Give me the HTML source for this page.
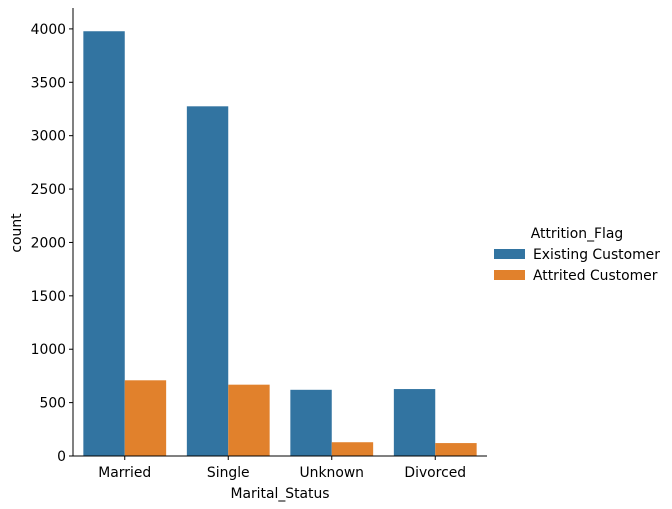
<!DOCTYPE html>
<html><head><meta charset="utf-8">
<style>
body{margin:0;background:#fff;}
svg{display:block;font-family:"DejaVu Sans","Liberation Sans",sans-serif;}
</style></head>
<body>
<svg id="chart" width="672" height="509" viewBox="0 0 672 509" xmlns="http://www.w3.org/2000/svg"></svg>
<script>
const categories = ["Married","Single","Unknown","Divorced"];
const existingValues = [3978, 3275, 620, 627];
const attritedValues = [709, 668, 129, 121];
const seriesNames = ["Existing Customer","Attrited Customer"];
const yTicks = [0,500,1000,1500,2000,2500,3000,3500,4000];

const colors = ["#3274a1","#e1812c"];
const FS = 13.9;
const X0 = 73, X1 = 487, Y0 = 456, YMAX = 4177, YTOP = 10;
const svg = document.getElementById('chart');
const NS = "http://www.w3.org/2000/svg";
function el(tag, attrs, parent){const e=document.createElementNS(NS,tag);for(const k in attrs)e.setAttribute(k,attrs[k]);(parent||svg).appendChild(e);return e;}
const yScale = v => Y0 - v/YMAX*(Y0-YTOP);
const band = (X1-X0)/categories.length;
const xCenter = i => X0 + band*(i+0.5);
const barW = band*0.8/2;

[existingValues, attritedValues].forEach((vals, s) => {
  vals.forEach((v, i) => {
    const x = xCenter(i) - band*0.4 + s*barW;
    const r = el('rect',{x:x,y:yScale(v),width:barW,height:Y0-yScale(v),fill:colors[s]});
    
    
  });
});

let a = el('line',{x1:X0,y1:YTOP-2,x2:X0,y2:Y0,stroke:"#000","stroke-width":1});


a = el('line',{x1:X0,y1:Y0,x2:X1,y2:Y0,stroke:"#000","stroke-width":1});



yTicks.forEach(t => {
  const y = yScale(t);
  el('line',{x1:X0-4,y1:y,x2:X0,y2:y,stroke:"#000"});
  const tx = el('text',{x:X0-7,y:y+5,"text-anchor":"end","font-size":FS,fill:"#000"});
  tx.textContent = t;
  
  
});
categories.forEach((c, i) => {
  const x = xCenter(i);
  el('line',{x1:x,y1:Y0,x2:x,y2:Y0+4,stroke:"#000"});
  const tx = el('text',{x:x,y:Y0+21,"text-anchor":"middle","font-size":FS,fill:"#000"});
  tx.textContent = c;
  
  
});
let t = el('text',{x:(X0+X1)/2,y:498,"text-anchor":"middle","font-size":FS,fill:"#000"});
t.textContent = "Marital_Status";


t = el('text',{x:21,y:(Y0+YTOP)/2,"text-anchor":"middle","font-size":FS,fill:"#000",transform:`rotate(-90 21 ${(Y0+YTOP)/2})`});
t.textContent = "count";



t = el('text',{x:577,y:238,"text-anchor":"middle","font-size":FS,fill:"#000"});
t.textContent = "Attrition_Flag";


seriesNames.forEach((n, s) => {
  const y = 249 + s*21;
  const r = el('rect',{x:494,y:y,width:31,height:10,fill:colors[s]});
  
  
  const tx = el('text',{x:533,y:y+10,"font-size":FS,fill:"#000"});
  tx.textContent = n;
  
  
});
</script>
</body></html>
